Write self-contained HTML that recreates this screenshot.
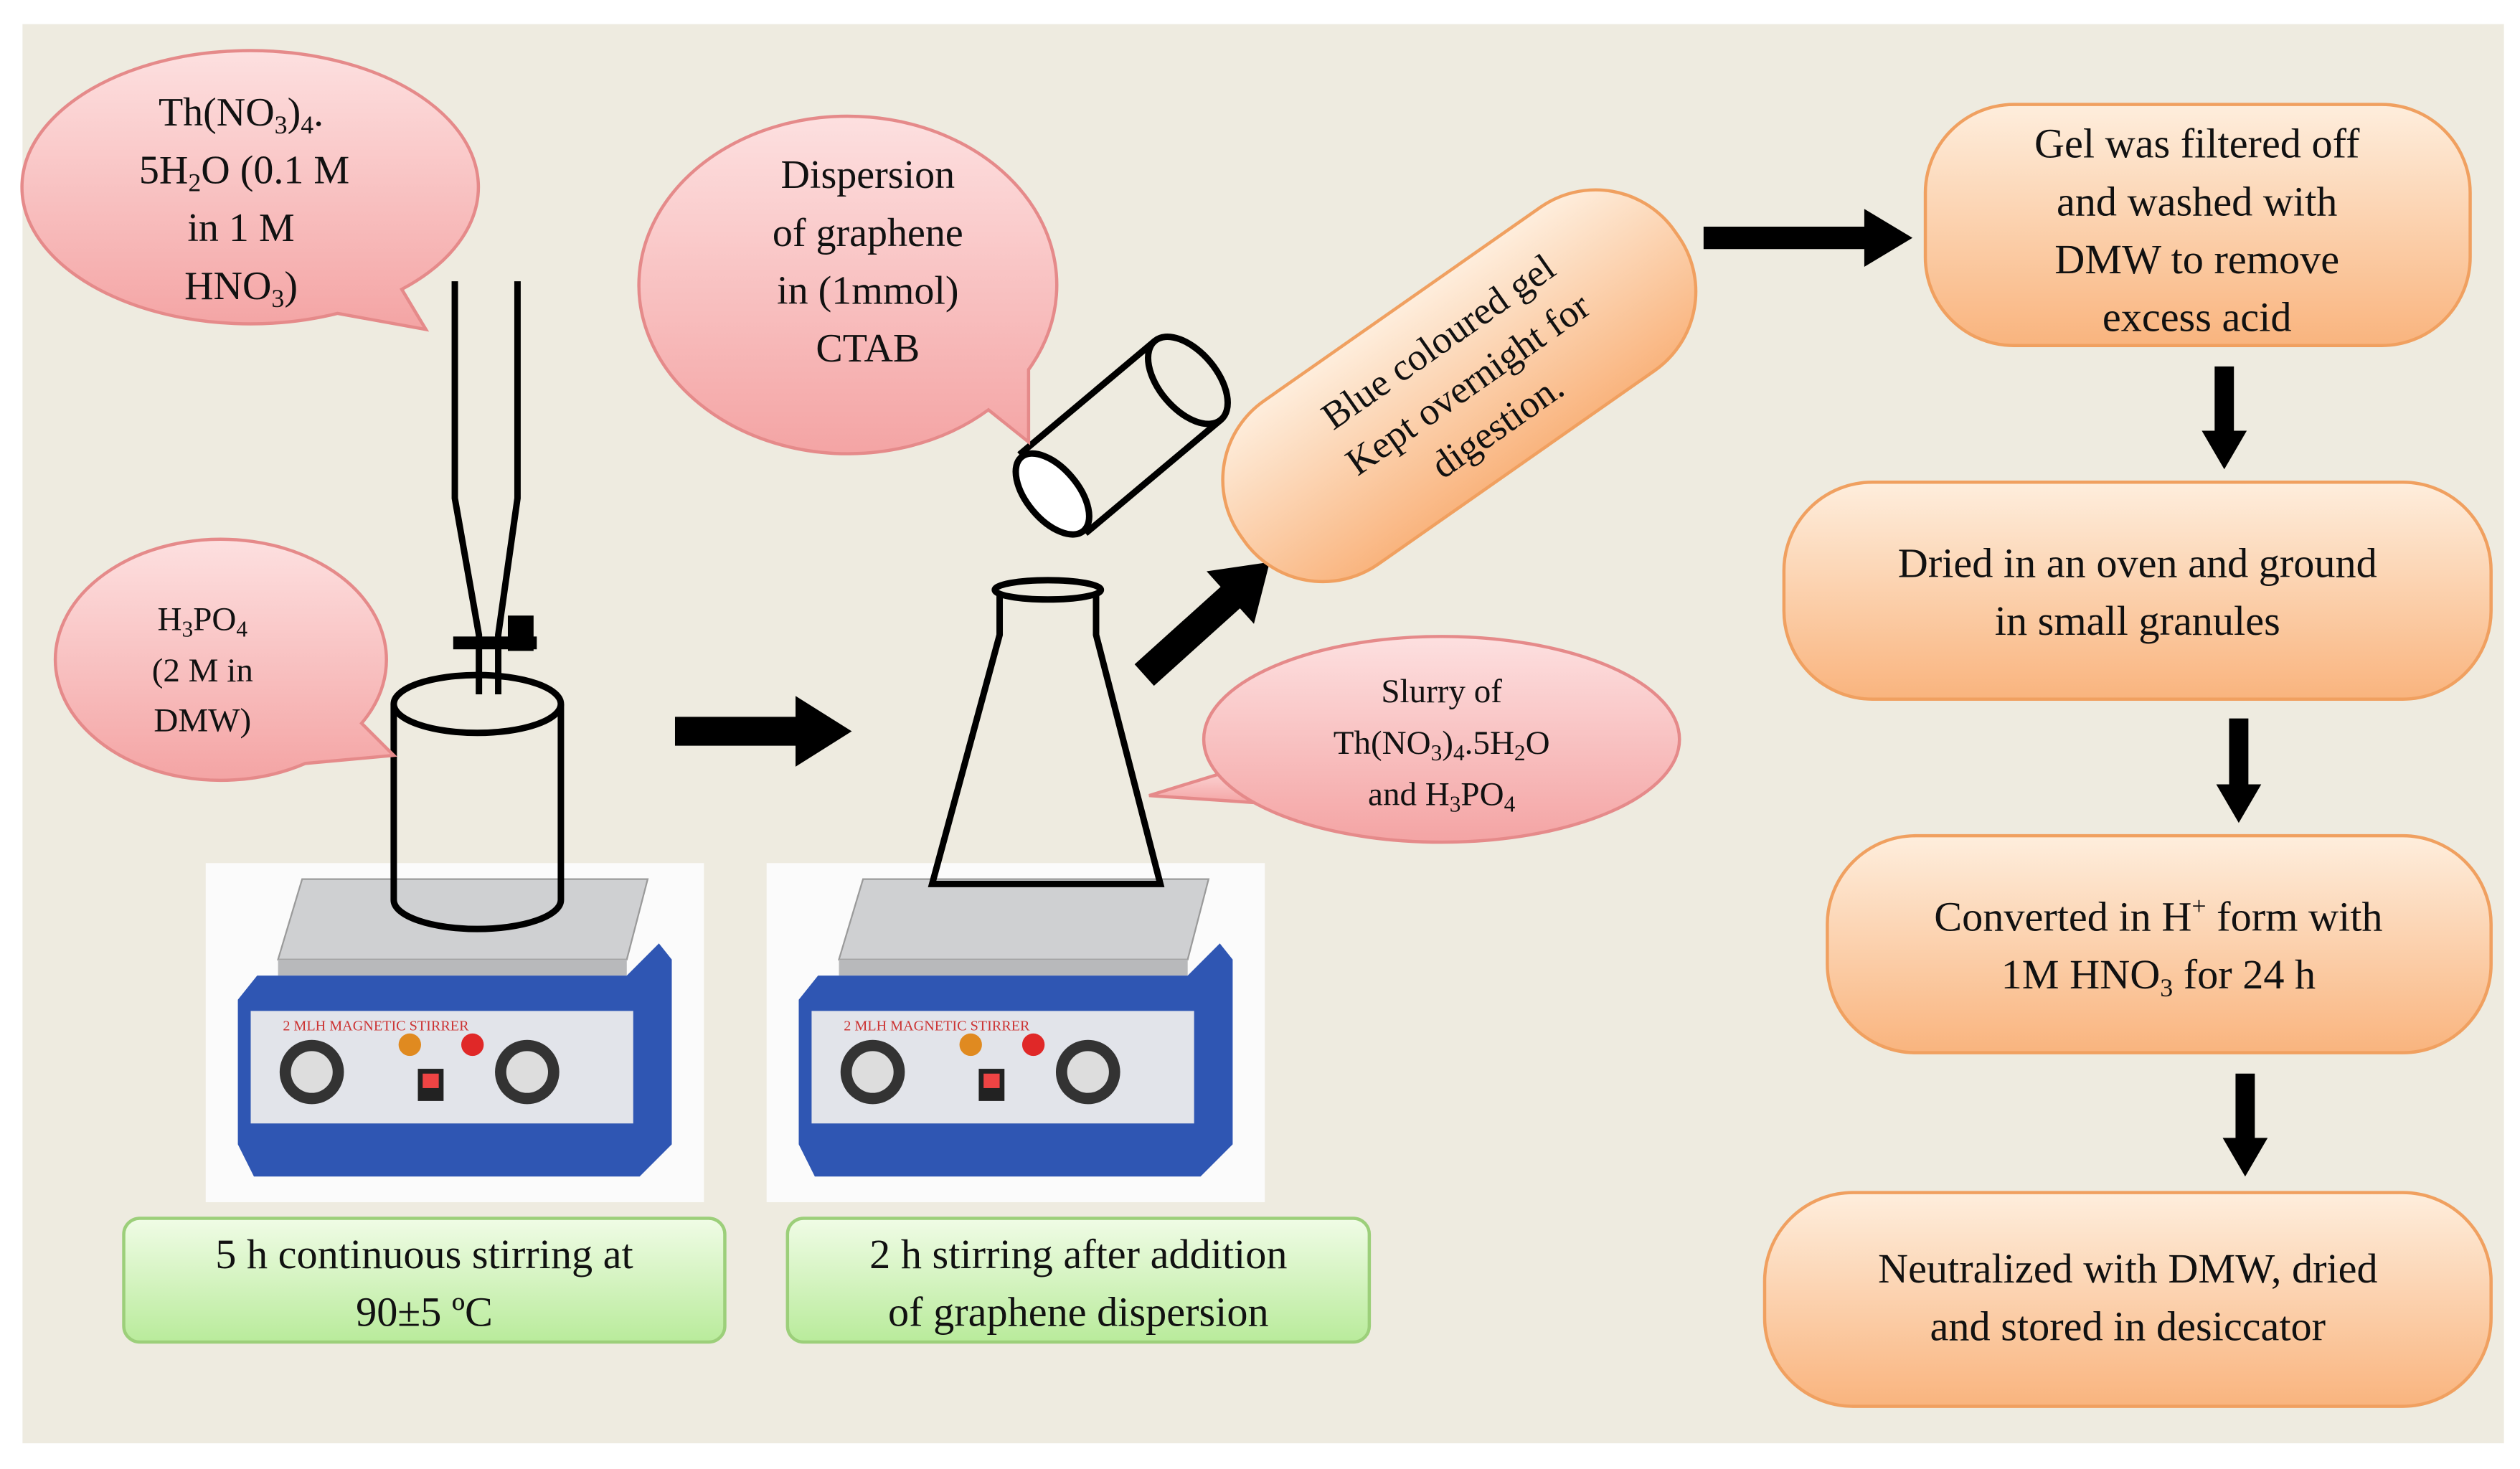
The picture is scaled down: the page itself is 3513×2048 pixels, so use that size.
<!DOCTYPE html>
<html><head><meta charset="utf-8"><style>
html,body{margin:0;padding:0;background:#fff}
svg{display:block}
text{font-family:"Liberation Serif",serif;fill:#111}
</style></head><body>
<svg width="3513" height="2048" viewBox="0 0 1568 914" preserveAspectRatio="none" xmlns="http://www.w3.org/2000/svg">
<defs>
<linearGradient id="pk" x1="0" y1="0" x2="0" y2="1"><stop offset="0" stop-color="#FDE0E0"/><stop offset="1" stop-color="#F4A4A4"/></linearGradient>
<linearGradient id="or" x1="0" y1="0" x2="0" y2="1"><stop offset="0" stop-color="#FEEEDD"/><stop offset="1" stop-color="#F9B47E"/></linearGradient>
<linearGradient id="gr" x1="0" y1="0" x2="0" y2="1"><stop offset="0" stop-color="#F0FCE6"/><stop offset="1" stop-color="#B9EB9B"/></linearGradient>
<g id="stir">
<rect x="0" y="0" width="310" height="211" fill="#fbfbfb"/>
<polygon points="60,10 275,10 262,60 45,60" fill="#cfd0d2" stroke="#9a9a9a"/>
<rect x="45" y="60" width="217" height="10" fill="#b8b9bb"/>
<polygon points="32,70 262,70 282,50 290,60 290,175 270,195 30,195 20,175 20,85" fill="#2f56b3"/>
<rect x="28" y="92" width="238" height="70" fill="#e2e4ea"/>
<text x="48" y="104" font-size="9" style="fill:#c33">2 MLH MAGNETIC STIRRER</text>
<circle cx="66" cy="130" r="20" fill="#333"/><circle cx="66" cy="130" r="13" fill="#ddd"/>
<circle cx="200" cy="130" r="20" fill="#333"/><circle cx="200" cy="130" r="13" fill="#ddd"/>
<circle cx="127" cy="113" r="7" fill="#e08a20"/><circle cx="166" cy="113" r="7" fill="#e02828"/>
<rect x="132" y="128" width="16" height="20" fill="#222"/><rect x="135" y="131" width="10" height="9" fill="#e44"/>
</g>
</defs>
<rect width="1568" height="914" fill="#fff"/>
<rect x="14" y="15" width="1544" height="883" fill="#EEEBE0"/>

<use href="#stir" x="128" y="537"/>
<use href="#stir" x="477" y="537"/>

<g stroke="#000" stroke-width="4" fill="none">
<path d="M283,175 V310 L298,395 V432"/>
<path d="M322,175 V310 L310,395 V432"/>
<line x1="282" y1="400" x2="334" y2="400" stroke-width="8"/>
<rect x="318" y="385" width="12" height="18" fill="#000"/>
<path d="M245,438 V560 A52,18 0 0 0 349,560 V438"/>
<ellipse cx="297" cy="438" rx="52" ry="18"/>
<path d="M622,370 V395 L580,550 H722 L682,395 V370"/>
<ellipse cx="652" cy="367" rx="33" ry="6"/>
<g transform="translate(697,272) rotate(-40)">
<path d="M-55,-32 H55 M-55,32 H55"/>
<ellipse cx="55" cy="0" rx="18" ry="32"/>
</g>
</g>
<g transform="translate(697,272) rotate(-40)"><ellipse cx="-55" cy="0" rx="16" ry="30" fill="#fff" stroke="#000" stroke-width="4"/></g>

<g fill="#000">
<polygon points="420,446 495,446 495,433 530,455 495,477 495,464 420,464"/>
<polygon points="1060,141 1160,141 1160,130 1190,148 1160,166 1160,155 1060,155"/>
<g transform="translate(712,420) rotate(-42)"><polygon points="0,-9 72,-9 72,-22 105,0 72,22 72,9 0,9"/></g>
<polygon points="1378,228 1390,228 1390,268 1398,268 1384,292 1370,268 1378,268"/>
<polygon points="1387,447 1399,447 1399,488 1407,488 1393,512 1379,488 1387,488"/>
<polygon points="1391,668 1403,668 1403,708 1411,708 1397,732 1383,708 1391,708"/>
</g>

<g fill="url(#pk)" stroke="#E58A8A" stroke-width="2">
<path d="M210,195 A142,85 0 1 1 250,180 L265,205 Z"/>
<path d="M190,475 A103,75 0 1 1 225,450 L245,470 Z"/>
<path d="M615,255 A130,105 0 1 1 640,230 L640,275 Z"/>
<polygon points="780,475 715,495 790,500"/>
<ellipse cx="897" cy="460" rx="148" ry="64"/>
</g>
<g font-size="25" text-anchor="middle">
<text x="150" y="78">Th(NO<tspan font-size="16" dy="5">3</tspan><tspan dy="-5">)</tspan><tspan font-size="16" dy="5">4</tspan><tspan dy="-5">.</tspan></text>
<text x="152" y="114">5H<tspan font-size="16" dy="5">2</tspan><tspan dy="-5">O (0.1 M</tspan></text>
<text x="150" y="150">in 1 M</text>
<text x="150" y="186">HNO<tspan font-size="16" dy="5">3</tspan><tspan dy="-5">)</tspan></text>
<text x="540" y="117">Dispersion</text>
<text x="540" y="153">of graphene</text>
<text x="540" y="189">in (1mmol)</text>
<text x="540" y="225">CTAB</text>
</g>
<g font-size="21" text-anchor="middle">
<text x="126" y="392">H<tspan font-size="14" dy="4">3</tspan><tspan dy="-4">PO</tspan><tspan font-size="14" dy="4">4</tspan></text>
<text x="126" y="424">(2 M in</text>
<text x="126" y="455">DMW)</text>
<text x="897" y="437">Slurry  of</text>
<text x="897" y="469">Th(NO<tspan font-size="14" dy="4">3</tspan><tspan dy="-4">)</tspan><tspan font-size="14" dy="4">4</tspan><tspan dy="-4">.5H</tspan><tspan font-size="14" dy="4">2</tspan><tspan dy="-4">O</tspan></text>
<text x="897" y="501">and H<tspan font-size="14" dy="4">3</tspan><tspan dy="-4">PO</tspan><tspan font-size="14" dy="4">4</tspan></text>
</g>

<g transform="translate(908,240) rotate(-35)">
<rect x="-165" y="-62" width="330" height="124" rx="60" fill="url(#or)" stroke="#F0A060" stroke-width="2"/>
<g font-size="24" text-anchor="middle">
<text x="5" y="-22">Blue coloured gel</text>
<text x="5" y="10">Kept overnight  for</text>
<text x="5" y="42">digestion.</text>
</g>
</g>

<g fill="url(#or)" stroke="#F0A060" stroke-width="2">
<rect x="1198" y="65" width="339" height="150" rx="55"/>
<rect x="1110" y="300" width="440" height="135" rx="55"/>
<rect x="1137" y="520" width="413" height="135" rx="55"/>
<rect x="1098" y="742" width="452" height="133" rx="55"/>
</g>
<g font-size="26" text-anchor="middle">
<text x="1367" y="98">Gel was filtered  off</text>
<text x="1367" y="134">and washed with</text>
<text x="1367" y="170">DMW to remove</text>
<text x="1367" y="206">excess acid</text>
<text x="1330" y="359">Dried in an oven and ground</text>
<text x="1330" y="395">in small granules</text>
<text x="1343" y="579">Converted in H<tspan font-size="16" dy="-10">+</tspan><tspan dy="10"> form with</tspan></text>
<text x="1343" y="615">1M HNO<tspan font-size="16" dy="5">3</tspan><tspan dy="-5"> for 24  h</tspan></text>
<text x="1324" y="798">Neutralized  with DMW, dried</text>
<text x="1324" y="834">and stored  in desiccator</text>
</g>

<g fill="url(#gr)" stroke="#9CCF7A" stroke-width="2">
<rect x="77" y="758" width="374" height="77" rx="10"/>
<rect x="490" y="758" width="362" height="77" rx="10"/>
</g>
<g font-size="26" text-anchor="middle">
<text x="264" y="789">5 h continuous stirring  at</text>
<text x="264" y="825">90±5 ºC</text>
<text x="671" y="789">2 h stirring after addition</text>
<text x="671" y="825">of graphene  dispersion</text>
</g>
</svg>
</body></html>
